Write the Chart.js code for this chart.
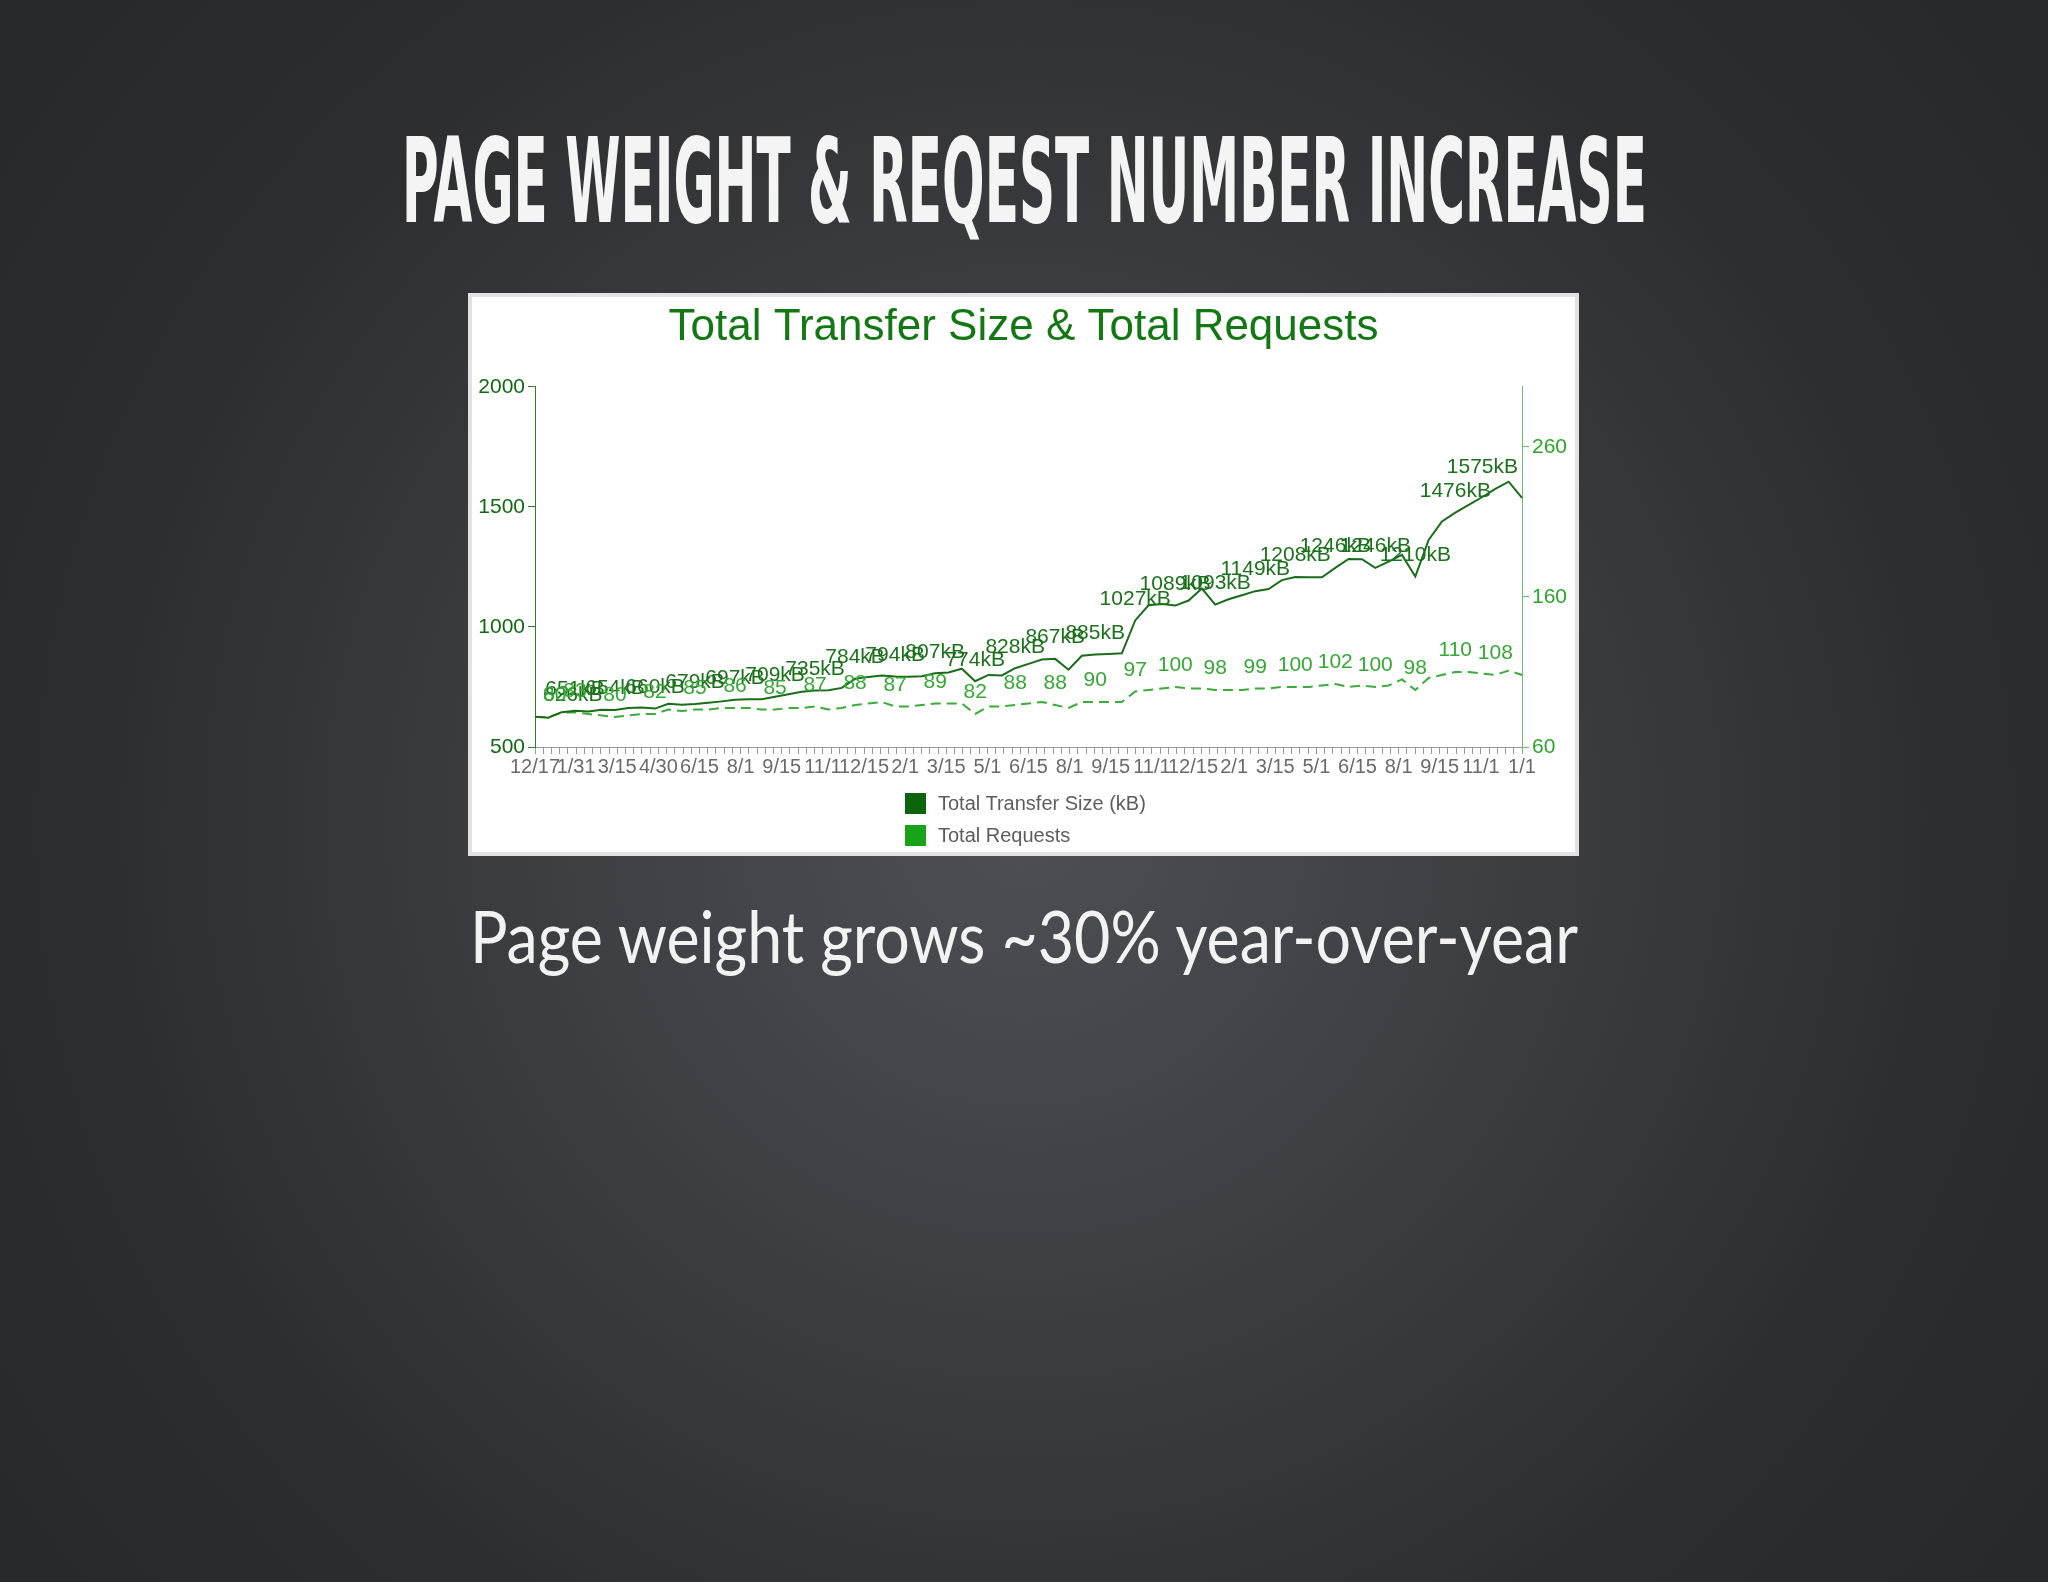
<!DOCTYPE html>
<html>
<head>
<meta charset="utf-8">
<title>Page weight &amp; request number increase</title>
<script src="https://cdn.jsdelivr.net/npm/chart.js@4.4.1/dist/chart.umd.min.js"></script>
<style>
  html, body {
    margin: 0;
    padding: 0;
  }
  body {
    width: 2048px;
    height: 1582px;
    overflow: hidden;
    position: relative;
    background: radial-gradient(circle at 50% 52%, #4c4f54 0%, #3d3f43 35%, #2c2d30 72%, #272829 100%);
  }
  .heading {
    position: absolute;
    left: 1024px;
    white-space: nowrap;
    transform-origin: 0 50%;
  }
  #slideTitle {
    top: 122px;
    font-family: "Liberation Sans Narrow", "DejaVu Sans Condensed", "Liberation Sans", sans-serif;
    font-weight: bold;
    font-size: 118px;
    line-height: 118px;
    color: #f4f4f4;
  }
  #subtitle {
    top: 900px;
    font-family: Lato, "Open Sans", sans-serif;
    font-weight: 400;
    font-size: 71px;
    line-height: 71px;
    color: #f2f2f2;
  }
  #chartBox {
    position: absolute;
    left: 468px;
    top: 293px;
    width: 1111px;
    height: 563px;
    box-sizing: border-box;
    background: #ffffff;
    border: 4px solid #e2e2e2;
  }
  #chart {
    position: absolute;
    left: 469px;
    top: 294px;
  }
  .legend {
    position: absolute;
    left: 905px;
    font-family: "Liberation Sans", Arial, sans-serif;
    font-size: 20px;
    color: #5c5c5c;
    line-height: 21px;
  }
  .legend i {
    display: inline-block;
    width: 21px;
    height: 21px;
    vertical-align: top;
    margin-right: 12px;
  }
</style>
</head>
<body>
<div id="slideTitle" class="heading">PAGE WEIGHT &amp; REQEST NUMBER INCREASE</div>
<div id="chartBox"></div>
<canvas id="chart" width="1109" height="561" style="width:1109px;height:561px"></canvas>
<div class="legend" style="top:793px"><i style="background:#0b650b"></i>Total Transfer Size (kB)</div>
<div class="legend" style="top:825px"><i style="background:#19a319"></i>Total Requests</div>
<div id="subtitle" class="heading">Page weight grows ~30% year-over-year</div>

<script>
// HTTP Archive runs shown on the chart
const runDates = [
    'Dec 17 2010', 'Dec 28 2010', 'Jan 10 2011', 'Jan 20 2011', 'Jan 31 2011',
    'Feb 11 2011', 'Feb 26 2011', 'Mar 15 2011', 'Mar 29 2011', 'Apr 15 2011',
    'Apr 30 2011', 'May 16 2011', 'Jun 1 2011', 'Jun 15 2011', 'Jul 1 2011',
    'Jul 15 2011', 'Aug 1 2011', 'Aug 15 2011', 'Sep 1 2011', 'Sep 15 2011',
    'Oct 1 2011', 'Oct 15 2011', 'Nov 1 2011', 'Nov 15 2011', 'Dec 1 2011',
    'Dec 15 2011', 'Jan 1 2012', 'Jan 15 2012', 'Feb 1 2012', 'Feb 15 2012',
    'Mar 1 2012', 'Mar 15 2012', 'Apr 1 2012', 'Apr 15 2012', 'May 1 2012',
    'May 15 2012', 'Jun 1 2012', 'Jun 15 2012', 'Jul 1 2012', 'Jul 15 2012',
    'Aug 1 2012', 'Aug 15 2012', 'Sep 1 2012', 'Sep 15 2012', 'Oct 1 2012',
    'Oct 15 2012', 'Nov 1 2012', 'Nov 15 2012', 'Dec 1 2012', 'Dec 15 2012',
    'Jan 1 2013', 'Jan 15 2013', 'Feb 1 2013', 'Feb 15 2013', 'Mar 1 2013',
    'Mar 15 2013', 'Apr 1 2013', 'Apr 15 2013', 'May 1 2013', 'May 15 2013',
    'Jun 1 2013', 'Jun 15 2013', 'Jul 1 2013', 'Jul 15 2013', 'Aug 1 2013',
    'Aug 15 2013', 'Sep 1 2013', 'Sep 15 2013', 'Oct 1 2013', 'Oct 15 2013',
    'Nov 1 2013', 'Nov 15 2013', 'Dec 1 2013', 'Dec 15 2013', 'Jan 1 2014'
];

// Total transfer size per run (kB)
const transferSize = [
    626, 622, 645, 651, 648, 655, 654, 662, 664, 660,
    680, 676, 679, 684, 690, 697, 699, 699, 709, 720,
    730, 735, 736, 746, 784, 792, 798, 794, 793, 795,
    807, 810, 826, 774, 800, 798, 828, 846, 864, 867,
    822, 880, 885, 887, 890, 1027, 1090, 1095, 1089, 1110,
    1160, 1093, 1115, 1132, 1149, 1158, 1195, 1208, 1207, 1207,
    1246, 1283, 1282, 1246, 1272, 1300, 1210, 1362, 1439, 1476,
    1508, 1540, 1575, 1605, 1537
];

// Total requests per run
const totalRequests = [
    80, 80, 83, 83, 82, 81, 80, 81, 82, 82,
    85, 84, 85, 85, 86, 86, 86, 85, 85, 86,
    86, 87, 85, 86, 88, 89, 90, 87, 87, 88,
    89, 89, 89, 82, 87, 87, 88, 89, 90, 88,
    86, 90, 90, 90, 90, 97, 98, 99, 100, 99,
    99, 98, 98, 98, 99, 99, 100, 100, 100, 101,
    102, 100, 101, 100, 101, 105, 98, 106, 108, 110,
    110, 109, 108, 111, 108
];

// Axis labels as printed on the chart
const dateTickLabels = [
    '12/17', '1/31', '3/15', '4/30', '6/15', '8/1', '9/15', '11/1', '12/15',
    '2/1', '3/15', '5/1', '6/15', '8/1', '9/15', '11/1', '12/15',
    '2/1', '3/15', '5/1', '6/15', '8/1', '9/15', '11/1', '1/1'
];
const sizeTicks = [500, 1000, 1500, 2000];
const requestTicks = [60, 160, 260];

window.addEventListener('load', function() {
    // Squeeze the headings to the width they have on the slide
    fitWidth(document.getElementById('slideTitle'), 1245);
    fitWidth(document.getElementById('subtitle'), 1108);

    drawChart();
});

function fitWidth(el, target) {
    const w = el.getBoundingClientRect().width;
    el.style.left = (1024 - target / 2) + 'px';
    el.style.transform = 'scaleX(' + (target / w).toFixed(4) + ')';
}

function drawChart() {
    Chart.defaults.font.family = '"Liberation Sans", Arial, sans-serif';

    // The date axis has 5 minor ticks between printed labels
    const tickAxisLabels = [];
    dateTickLabels.forEach((label, i) => {
        tickAxisLabels.push(label);
        if (i < dateTickLabels.length - 1) {
            tickAxisLabels.push('', '', '', '');
        }
    });

    // Value labels above every third run
    const valueLabels = {
        id: 'valueLabels',
        afterDatasetsDraw(chart) {
            const ctx = chart.ctx;
            const area = chart.chartArea;
            const styles = [
                { color: '#1b721b', suffix: 'kB' },
                { color: '#35a835', suffix: '' }
            ];
            ctx.save();
            ctx.font = '21px "Liberation Sans", Arial, sans-serif';
            ctx.textAlign = 'center';
            ctx.textBaseline = 'bottom';
            chart.data.datasets.forEach((ds, di) => {
                const meta = chart.getDatasetMeta(di);
                ctx.fillStyle = styles[di].color;
                meta.data.forEach((pt, i) => {
                    if (i % 3 !== 0) return;
                    const text = ds.data[i] + styles[di].suffix;
                    const w = ctx.measureText(text).width;
                    let x = pt.x;
                    x = Math.max(x, area.left + w / 2 + 8);
                    x = Math.min(x, area.right - w / 2 - 4);
                    ctx.fillText(text, x, pt.y - 11);
                });
            });
            ctx.restore();
        }
    };

    new Chart(document.getElementById('chart'), {
        type: 'line',
        data: {
            labels: runDates,
            datasets: [{
                label: 'Total Transfer Size (kB)',
                data: transferSize,
                xAxisID: 'x',
                yAxisID: 'y',
                borderColor: '#1a6c1a',
                borderWidth: 2,
                pointRadius: 0,
                tension: 0,
                fill: false
            }, {
                label: 'Total Requests',
                data: totalRequests,
                xAxisID: 'x',
                yAxisID: 'y1',
                borderColor: '#3aac3a',
                borderWidth: 2,
                borderDash: [10, 6],
                pointRadius: 0,
                tension: 0,
                fill: false
            }]
        },
        options: {
            responsive: false,
            animation: false,
            devicePixelRatio: 1,
            layout: { padding: 0 },
            plugins: {
                legend: { display: false },
                tooltip: { enabled: false },
                title: {
                    display: true,
                    text: 'Total Transfer Size & Total Requests',
                    color: '#137713',
                    font: { size: 44, weight: 'normal' },
                    padding: { top: 7, bottom: 33 }
                }
            },
            scales: {
                x: {
                    type: 'category',
                    display: false,
                    offset: false
                },
                xt: {
                    type: 'category',
                    position: 'bottom',
                    labels: tickAxisLabels,
                    offset: false,
                    grid: {
                        drawOnChartArea: false,
                        drawTicks: true,
                        tickLength: 7,
                        color: '#9a9a9a'
                    },
                    border: { color: '#9a9a9a' },
                    ticks: {
                        autoSkip: false,
                        maxRotation: 0,
                        minRotation: 0,
                        color: '#6a6a6a',
                        font: { size: 20 },
                        padding: 1
                    },
                    afterFit(scale) { scale.height = 108; }
                },
                y: {
                    position: 'left',
                    min: 500,
                    max: 2000,
                    afterBuildTicks(scale) {
                        scale.ticks = sizeTicks.map(v => ({ value: v }));
                    },
                    grid: {
                        drawOnChartArea: false,
                        tickLength: 7,
                        color: '#2f7c2f'
                    },
                    border: { color: '#2f7c2f' },
                    ticks: {
                        color: '#116a11',
                        font: { size: 21 },
                        padding: 3,
                        callback: value => String(value)
                    },
                    afterFit(scale) { scale.width = 66; }
                },
                y1: {
                    position: 'right',
                    min: 60,
                    max: 300,
                    afterBuildTicks(scale) {
                        scale.ticks = requestTicks.map(v => ({ value: v }));
                    },
                    grid: {
                        drawOnChartArea: false,
                        tickLength: 7,
                        color: '#6cc06c'
                    },
                    border: { color: '#6cc06c' },
                    ticks: {
                        color: '#2aa62a',
                        font: { size: 21 },
                        padding: 3,
                        callback: value => String(value)
                    },
                    afterFit(scale) { scale.width = 56; }
                }
            }
        },
        plugins: [valueLabels]
    });
}
</script>
</body>
</html>
